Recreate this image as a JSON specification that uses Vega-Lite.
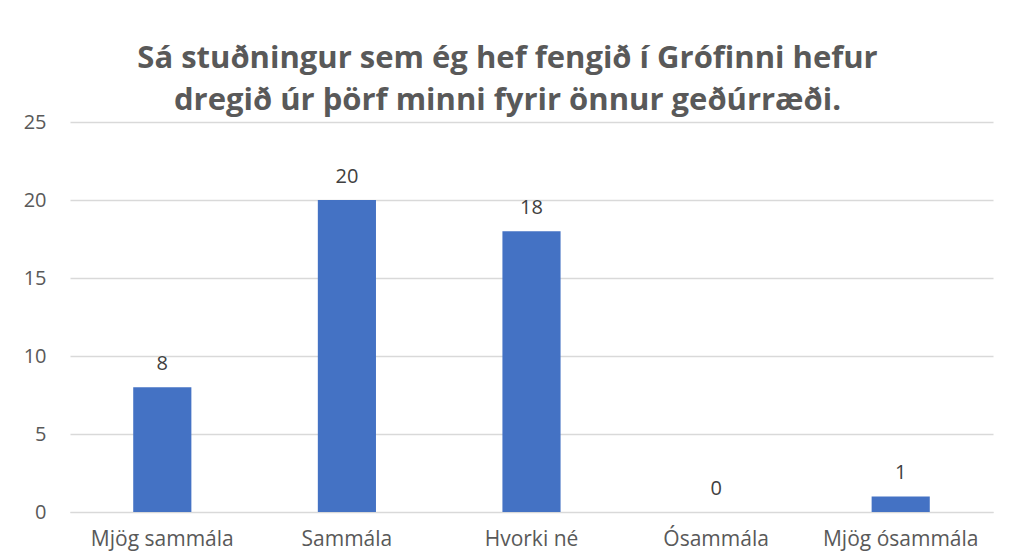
{
  "$schema": "https://vega.github.io/schema/vega-lite/v6.json",
  "width": 923,
  "height": 390,
  "autosize": {"type": "none"},
  "padding": {"left": 70, "top": 122, "right": 17, "bottom": 44},
  "background": "white",
  "title": {
    "text": ["Sá stuðningur sem ég hef fengið í Grófinni hefur", "dregið úr þörf minni fyrir önnur geðúrræði."],
    "font": "Open Sans",
    "fontSize": 31,
    "fontWeight": "bold",
    "color": "#595959",
    "anchor": "middle",
    "dx": -24,
    "lineHeight": 42,
    "offset": -5
  },
  "data": {
    "values": [
      {"svar": "Mjög sammála", "fjoldi": 8},
      {"svar": "Sammála", "fjoldi": 20},
      {"svar": "Hvorki né", "fjoldi": 18},
      {"svar": "Ósammála", "fjoldi": 0},
      {"svar": "Mjög ósammála", "fjoldi": 1}
    ]
  },
  "encoding": {
    "x": {
      "field": "svar",
      "type": "nominal",
      "sort": null,
      "scale": {"paddingInner": 0.685, "paddingOuter": 0.3425},
      "axis": {
        "title": null,
        "labelAngle": 0,
        "ticks": false,
        "domainColor": "#d9d9d9",
        "labelFont": "Open Sans",
        "labelFontSize": 21,
        "labelColor": "#595959",
        "labelPadding": 16
      }
    },
    "y": {
      "field": "fjoldi",
      "type": "quantitative",
      "scale": {"domain": [0, 25]},
      "axis": {
        "title": null,
        "values": [0, 5, 10, 15, 20, 25],
        "ticks": false,
        "domain": false,
        "gridColor": "#d9d9d9",
        "gridWidth": 1.3,
        "labelFont": "Open Sans",
        "labelFontSize": 20,
        "labelColor": "#595959",
        "labelPadding": 24
      }
    }
  },
  "layer": [
    {"mark": {"type": "bar", "color": "#4472C4"}},
    {
      "mark": {"type": "text", "baseline": "bottom", "dy": -13, "font": "Open Sans", "fontSize": 20, "color": "#404040"},
      "encoding": {"text": {"field": "fjoldi", "type": "quantitative"}}
    }
  ],
  "config": {"view": {"stroke": null}}
}
